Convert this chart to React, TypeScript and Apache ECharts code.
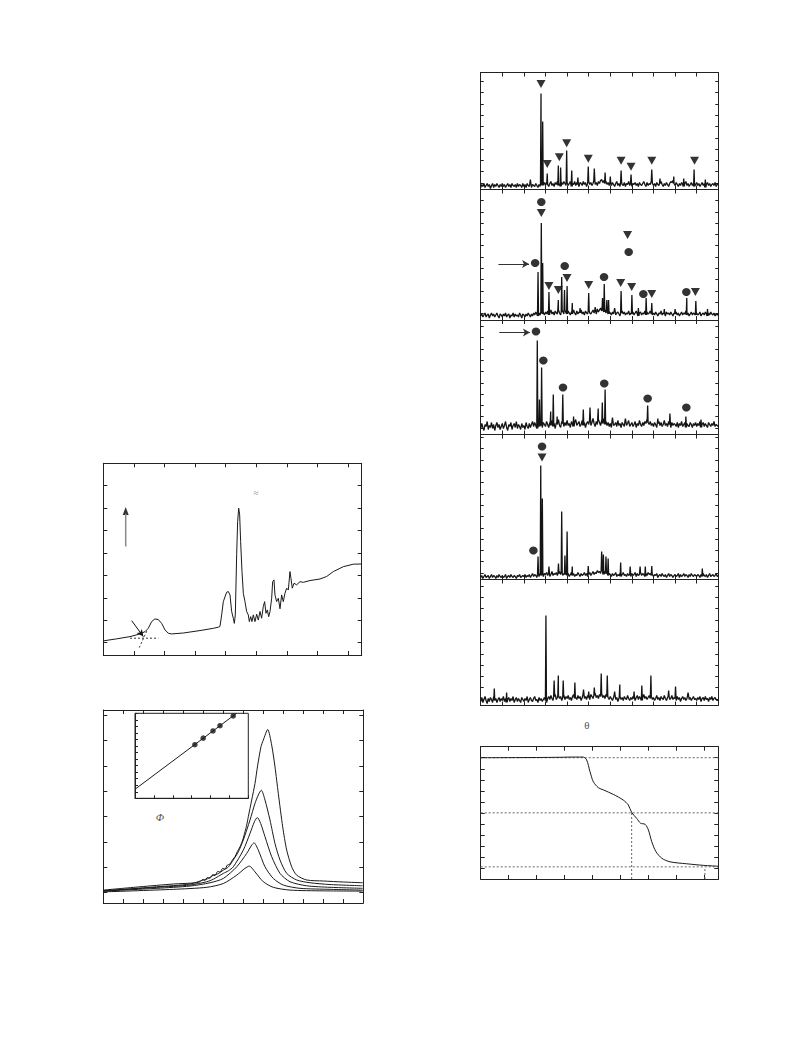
import { useEffect, useRef } from "react";
import * as echarts from "echarts";

// ---------- DSC trace (upper left) ----------
const dscTemp = [0, 21.8, 43.6, 59.9, 68.1, 73.5, 79.0, 84.4, 89.9, 95.3, 100.8, 106.2, 111.7, 130.7, 158.0, 179.8, 187.9, 190.6, 193.4, 196.1, 201.5, 204.3, 207.0, 209.7, 212.4, 214.1, 215.7, 217.9, 219.5, 221.2, 222.8, 224.4, 226.6, 228.8, 231.5, 234.2, 236.9, 238.6, 240.8, 242.9, 245.1, 247.8, 250.6, 253.3, 256.0, 258.7, 261.4, 263.6, 265.8, 268.0, 270.2, 272.4, 275.1, 276.7, 278.9, 280.5, 283.2, 286.0, 288.7, 291.4, 294.1, 296.8, 299.6, 302.3, 305.0, 306.6, 308.8, 311.6, 315.9, 321.4, 326.8, 337.7, 354.1, 364.9, 375.8, 392.2, 408.5, 422.1];
const dscHeat = [0.08, 0.17, 0.27, 0.39, 0.49, 0.64, 0.94, 1.06, 1.03, 0.86, 0.57, 0.42, 0.39, 0.43, 0.54, 0.64, 0.69, 0.72, 1.24, 1.83, 2.25, 2.28, 2.13, 1.39, 1.09, 0.86, 1.24, 3.92, 5.40, 6.00, 5.70, 4.51, 3.17, 2.20, 1.83, 1.39, 1.24, 0.94, 1.16, 0.94, 1.24, 0.94, 1.27, 1.01, 1.39, 1.09, 1.61, 1.83, 1.31, 1.46, 1.16, 1.39, 1.98, 2.72, 2.80, 2.13, 1.83, 1.98, 1.51, 2.13, 1.83, 2.20, 2.43, 2.35, 3.17, 2.87, 2.43, 2.65, 2.58, 2.72, 2.69, 2.77, 2.84, 2.95, 3.17, 3.39, 3.50, 3.51];
const dscBaseline = [[43.6, 0.2], [89.9, 0.2]];
const dscTangent = [[58.8, -0.22], [71.9, 0.57]];
const dscOnsetArrow = [[46.4, 0.98], [65.4, 0.27]];
const dscUpArrow = [[36.6, 4.29], [36.6, 5.75]];
const dscUpArrowHead = [36.6, 5.87];

// ---------- emission spectra (lower left) ----------
const spectrum1 = [[380, 0.09], [416.7, 0.22], [450, 0.33], [473.4, 0.38], [476.7, 0.42], [479.4, 0.51], [481.7, 0.47], [484.0, 0.59], [486.7, 0.56], [489.4, 0.70], [491.7, 0.66], [494.4, 0.83], [496.7, 0.80], [499.4, 0.95], [501.7, 0.92], [504.0, 1.08], [506.7, 1.12], [509.4, 1.30], [511.7, 1.41], [514.0, 1.61], [516.7, 1.80], [519.4, 2.07], [521.7, 2.40], [523.4, 2.66], [525.0, 2.99], [528.4, 3.65], [531.7, 4.31], [534.4, 5.03], [537.7, 5.76], [540.0, 6.02], [544.4, 6.44], [548.4, 5.82], [551.7, 4.96], [555.0, 3.91], [559.4, 2.59], [563.4, 1.67], [568.4, 1.01], [573.4, 0.68], [583.4, 0.49], [600, 0.45], [620, 0.41], [639.4, 0.38]];
const spectrum2 = [[380, 0.06], [433.4, 0.22], [466.7, 0.33], [480, 0.49], [485, 0.55], [490, 0.68], [495, 0.74], [500, 0.88], [505, 1.0], [510, 1.28], [515, 1.6], [520, 2.07], [526.7, 2.86], [531.7, 3.52], [535, 3.85], [538, 4.04], [541.7, 3.65], [546.7, 2.86], [551.7, 1.93], [556.7, 1.28], [563.4, 0.75], [573.4, 0.49], [586.7, 0.38], [606.7, 0.31], [639.4, 0.26]];
const spectrum3 = [[380, 0.06], [433.4, 0.20], [466.7, 0.29], [483.4, 0.42], [490, 0.52], [500, 0.75], [505, 0.85], [510, 1.01], [520, 1.67], [526.7, 2.33], [531.1, 2.79], [534, 2.96], [537.4, 2.72], [541.7, 2.20], [548.4, 1.41], [556.7, 0.75], [566.7, 0.42], [583.4, 0.26], [606.7, 0.20], [639.4, 0.16]];
const spectrum4 = [[380, 0.05], [433.4, 0.16], [466.7, 0.25], [486.7, 0.38], [500, 0.55], [513.4, 1.01], [523.4, 1.54], [528.4, 1.87], [530.7, 1.96], [535, 1.67], [541.7, 1.01], [550, 0.55], [560, 0.29], [576.7, 0.16], [606.7, 0.12], [639.4, 0.09]];
const spectrum5 = [[380, 0.02], [450, 0.12], [483.4, 0.20], [500, 0.35], [513.4, 0.68], [521.7, 0.95], [526, 1.04], [531.7, 0.81], [540, 0.42], [550, 0.20], [566.7, 0.09], [600, 0.06], [639.4, 0.05]];
const spectra = [spectrum1, spectrum2, spectrum3, spectrum4, spectrum5];

// inset: linear fit and measured points
const insetFit = [[0, 1.38], [5.38, 13]];
const insetPoints = [[3.17, 8.2], [3.61, 9.2], [4.13, 10.3], [4.5, 11.1], [5.2, 12.6]];

// ---------- powder diffraction patterns (right column) ----------
// background intensity sampled every 0.25° from 5° to 60°, one row per 5°
const twoThetaStart = 5;
const twoThetaStep = 0.25;

const noise1 = [
  2, 5, 3, 6, 2, 4, 6, 3, 5, 1, 4, 6, 2, 5, 3, 6, 4, 2, 5, 3,
  6, 3, 5, 2, 4, 6, 3, 5, 2, 6, 4, 3, 5, 2, 6, 3, 5, 4, 2, 6,
  3, 5, 2, 6, 4, 3, 6, 2, 5, 4, 3, 6, 4, 2, 5, 3, 6, 4, 5, 7,
  4, 7, 5, 3, 6, 8, 4, 6, 3, 7, 5, 8, 4, 6, 3, 7, 5, 8, 6, 4,
  7, 4, 6, 8, 3, 6, 5, 8, 4, 7, 5, 3, 7, 6, 4, 8, 5, 7, 3, 6,
  8, 5, 7, 4, 6, 9, 5, 7, 4, 8, 6, 9, 10, 7, 9, 6, 8, 5, 7, 4,
  6, 4, 7, 5, 3, 6, 8, 4, 6, 3, 7, 5, 4, 7, 3, 6, 5, 8, 4, 6,
  3, 6, 5, 7, 4, 6, 3, 7, 5, 4, 6, 8, 5, 3, 7, 4, 6, 5, 8, 6,
  4, 6, 3, 7, 5, 4, 6, 8, 5, 3, 6, 4, 7, 5, 3, 6, 8, 7, 9, 6,
  4, 7, 5, 3, 6, 4, 7, 5, 3, 6, 8, 4, 6, 3, 5, 7, 4, 6, 3, 5,
  7, 4, 6, 3, 5, 7, 4, 6, 2, 5, 7, 4, 6, 3, 5, 6, 4, 7, 3, 5,
  6,
];
const peaks1 = [[16.5, 10], [18.96, 96], [19.35, 68], [20.4, 16], [22.97, 24], [23.5, 22], [24.9, 39], [26.07, 19], [27.5, 12], [29.9, 23], [31.3, 21], [33.8, 17], [35.0, 13], [37.5, 19], [39.8, 15], [44.6, 20], [46.5, 11], [49.7, 13], [52.0, 11], [54.4, 20], [57.0, 10]];
const tri1 = [[18.96, 105.5], [20.4, 25.5], [23.2, 32.2], [24.9, 46.2], [29.9, 30.8], [37.5, 28.8], [39.8, 22.8], [44.6, 28.8], [54.5, 28.8]];
const dot1: number[][] = [];

const noise2 = [
  4, 6, 3, 5, 7, 3, 5, 6, 2, 5, 7, 4, 6, 3, 5, 7, 4, 2, 6, 5,
  3, 6, 4, 7, 3, 5, 6, 2, 5, 4, 7, 3, 6, 4, 5, 3, 7, 5, 2, 6,
  5, 3, 6, 4, 7, 5, 3, 6, 4, 7, 5, 8, 6, 4, 7, 5, 8, 6, 7, 5,
  8, 6, 9, 5, 7, 10, 6, 8, 5, 9, 7, 6, 10, 7, 5, 8, 9, 6, 10, 7,
  6, 9, 7, 5, 8, 6, 10, 7, 5, 9, 6, 8, 7, 10, 6, 8, 5, 9, 7, 6,
  9, 7, 6, 8, 10, 7, 9, 6, 11, 8, 10, 12, 9, 11, 8, 10, 7, 9, 6, 8,
  7, 5, 8, 6, 9, 5, 7, 8, 6, 4, 7, 9, 6, 8, 5, 7, 6, 9, 5, 7,
  6, 8, 5, 7, 9, 6, 4, 7, 8, 5, 7, 6, 9, 5, 8, 6, 7, 9, 6, 5,
  7, 5, 8, 6, 4, 7, 6, 9, 5, 7, 6, 4, 8, 6, 7, 5, 8, 6, 4, 7,
  6, 8, 5, 7, 4, 6, 8, 5, 7, 6, 9, 5, 7, 4, 6, 8, 5, 7, 6, 5,
  7, 5, 6, 8, 4, 6, 7, 5, 8, 6, 4, 7, 5, 8, 6, 5, 7, 4, 6, 5,
  6,
];
const peaks2 = [[18.27, 48], [19.03, 97], [19.35, 57], [20.8, 28], [22.97, 20], [23.75, 43], [24.4, 30], [25.0, 34], [26.2, 17], [28.0, 12], [30.0, 27], [31.5, 13], [33.2, 22], [33.6, 36], [34.2, 20], [34.6, 20], [36.0, 12], [37.5, 29], [40.0, 25], [41.5, 12], [43.3, 22], [44.6, 17], [47.5, 11], [50.0, 11], [52.7, 22], [54.8, 19], [57.5, 11]];
const tri2 = [[19.03, 107], [39.0, 85], [24.98, 42], [20.8, 34], [22.97, 30], [30.0, 35], [37.4, 37], [39.95, 33], [44.6, 26], [54.7, 28]];
const dot2 = [[19.03, 118], [39.26, 68], [17.6, 57], [24.45, 54], [33.55, 43], [42.65, 26], [52.6, 28]];
const arrow2 = [[9.1, 56], [16.2, 56]];

const noise3 = [
  6, 11, 7, 4, 10, 8, 13, 5, 9, 7, 12, 6, 10, 4, 9, 12, 7, 10, 5, 8,
  11, 6, 9, 13, 7, 4, 10, 8, 12, 5, 9, 11, 7, 13, 6, 10, 8, 5, 11, 7,
  9, 5, 12, 8, 6, 11, 7, 10, 13, 8, 12, 9, 6, 11, 8, 13, 9, 7, 12, 10,
  8, 13, 10, 7, 12, 9, 14, 8, 11, 6, 12, 10, 15, 9, 7, 13, 11, 8, 12, 9,
  14, 9, 11, 7, 13, 10, 8, 12, 15, 9, 11, 13, 8, 10, 14, 9, 12, 7, 11, 13,
  10, 14, 9, 12, 16, 11, 8, 13, 10, 15, 12, 9, 14, 11, 16, 10, 13, 9, 12, 8,
  11, 7, 13, 9, 10, 12, 8, 14, 9, 11, 7, 12, 10, 8, 13, 9, 11, 14, 8, 10,
  12, 8, 10, 13, 7, 11, 9, 14, 10, 8, 12, 9, 13, 11, 15, 12, 10, 13, 9, 11,
  8, 12, 10, 7, 11, 13, 9, 12, 8, 10, 14, 9, 11, 8, 13, 10, 7, 12, 9, 11,
  10, 8, 12, 7, 11, 9, 13, 8, 10, 12, 7, 11, 9, 8, 12, 10, 7, 11, 9, 12,
  8, 11, 9, 13, 7, 10, 12, 8, 11, 9, 7, 12, 10, 8, 11, 9, 13, 8, 10, 9,
  8,
];
const peaks3 = [[18.1, 94], [18.6, 35], [19.1, 67], [21.2, 23], [21.8, 40], [22.7, 18], [24.0, 40], [26.5, 18], [28.75, 25], [30.3, 27], [32.2, 26], [33.15, 32], [33.8, 45], [35.5, 17], [38.5, 16], [43.65, 29], [46.0, 16], [48.8, 21], [52.5, 18], [56.0, 15]];
const tri3: number[][] = [];
const dot3 = [[17.8, 103], [19.5, 74], [24.05, 47], [33.6, 51], [43.65, 36], [52.6, 27]];
const arrow3 = [[9.3, 102], [16.4, 102]];

const noise4 = [
  2, 4, 1, 3, 5, 2, 3, 4, 1, 3, 5, 2, 4, 3, 1, 4, 2, 5, 3, 2,
  4, 2, 3, 5, 1, 3, 4, 2, 5, 3, 2, 4, 3, 1, 4, 3, 5, 2, 3, 4,
  3, 5, 2, 4, 3, 5, 2, 4, 6, 3, 5, 4, 2, 5, 3, 6, 4, 5, 3, 6,
  5, 7, 4, 6, 3, 5, 8, 4, 6, 5, 7, 4, 6, 8, 5, 7, 4, 6, 5, 7,
  4, 6, 3, 5, 7, 4, 6, 3, 5, 4, 7, 5, 3, 6, 4, 5, 7, 4, 6, 3,
  5, 7, 4, 6, 8, 5, 7, 6, 9, 7, 8, 6, 9, 7, 5, 8, 6, 7, 4, 6,
  5, 3, 6, 4, 5, 7, 3, 5, 4, 6, 3, 5, 7, 4, 5, 3, 6, 4, 5, 3,
  6, 4, 5, 7, 3, 6, 4, 5, 7, 4, 6, 5, 3, 6, 4, 7, 5, 6, 4, 5,
  3, 5, 4, 6, 2, 4, 5, 3, 6, 4, 3, 5, 2, 4, 6, 3, 5, 4, 2, 4,
  5, 3, 4, 6, 2, 5, 3, 4, 6, 3, 5, 4, 2, 5, 3, 6, 4, 3, 5, 4,
  3, 5, 4, 2, 5, 3, 6, 4, 3, 5, 2, 4, 6, 3, 4, 5, 3, 4, 6, 3,
  4,
];
const peaks4 = [[18.27, 23], [18.9, 114], [19.27, 81], [20.8, 13], [23.0, 16], [23.75, 68], [24.5, 24], [25.0, 48], [26.2, 13], [29.9, 13.5], [33.0, 28], [33.4, 25], [34.0, 23], [34.5, 21], [37.4, 17], [39.6, 13], [41.9, 13], [43.1, 13], [44.6, 13.5], [56.3, 11]];
const tri4 = [[19.2, 122]];
const dot4 = [[19.2, 133], [17.2, 29]];

const noise5 = [
  4, 8, 3, 6, 9, 5, 2, 7, 4, 8, 6, 3, 9, 5, 7, 3, 6, 8, 4, 7,
  5, 9, 4, 7, 3, 6, 8, 4, 7, 5, 9, 3, 6, 8, 4, 7, 5, 3, 8, 6,
  4, 7, 5, 9, 3, 6, 8, 5, 4, 7, 9, 5, 6, 3, 8, 5, 7, 4, 6, 8,
  5, 3, 7, 9, 6, 10, 7, 5, 9, 11, 6, 8, 10, 7, 9, 5, 8, 10, 6, 9,
  7, 10, 6, 8, 5, 9, 11, 7, 8, 6, 10, 7, 9, 5, 8, 11, 7, 9, 6, 10,
  8, 6, 11, 9, 7, 10, 12, 8, 10, 7, 11, 9, 12, 8, 10, 7, 11, 9, 8, 6,
  9, 7, 5, 8, 10, 6, 8, 4, 7, 9, 6, 8, 5, 9, 7, 6, 10, 7, 5, 8,
  6, 9, 7, 5, 8, 10, 6, 9, 7, 5, 8, 11, 7, 9, 6, 8, 10, 7, 9, 6,
  8, 5, 7, 10, 6, 8, 5, 9, 7, 6, 10, 7, 5, 8, 9, 6, 7, 10, 6, 8,
  7, 5, 9, 6, 8, 4, 7, 9, 6, 8, 5, 7, 10, 6, 8, 5, 7, 9, 6, 7,
  5, 8, 6, 9, 4, 7, 8, 5, 9, 6, 7, 4, 8, 6, 9, 5, 7, 8, 6, 5,
  6,
];
const peaks5 = [[8.15, 17], [11.0, 13], [20.1, 90], [22.0, 25], [22.97, 30], [24.1, 25], [26.8, 23], [28.8, 16], [30.0, 14], [31.3, 18], [32.9, 32], [34.3, 30], [36.0, 14], [37.2, 21], [40.5, 14], [42.3, 20], [44.4, 30], [48.5, 15], [50.1, 19], [53.0, 13]];
const tri5: number[][] = [];
const dot5: number[][] = [];

// ---------- thermogravimetric curve (bottom right) ----------
const tgaTemp = [0, 100, 200, 284, 340, 367, 379, 391, 403, 421, 439, 474, 510, 528, 540, 558, 572, 588, 600, 612, 627, 648, 677, 737, 796, 850];
const tgaMass = [95.0, 95.05, 95.1, 95.2, 95.3, 95.3, 94.0, 88.7, 84.1, 81.4, 80.4, 78.4, 75.8, 73.6, 70.2, 67.5, 65.3, 64.8, 62.2, 56.9, 52.4, 49.4, 47.8, 46.9, 46.2, 45.8];
const tgaLevels = [95, 70, 45.5];
const tgaMarks = [[540, 70], [802, 45.5]];

// ---------------------------------------------------------------

const INK = "#1a1a1a";
const FRAME = "#222";

function buildPattern(noise: number[], peaks: number[][]) {
  const pts = noise.map((v, i) => [twoThetaStart + i * twoThetaStep, v]);
  for (const [pos, h] of peaks) {
    const i = Math.min(Math.max(Math.round((pos - twoThetaStart) / twoThetaStep), 0), noise.length - 1);
    const base = noise[i];
    pts.push([pos - 0.12, base], [pos, h], [pos + 0.12, base]);
  }
  return pts.sort((a, b) => a[0] - b[0]);
}

function tickRun(start: number, step: number, limit: number) {
  const t: number[] = [];
  for (let v = start; v < limit - 1.5; v += step) t.push(Math.round(v * 10) / 10);
  return t;
}

type AxisSpec = { min: number; max: number; interval?: number; ticks?: number[]; tickLen?: number };

function buildOption() {
  const grids: any[] = [];
  const xAxes: any[] = [];
  const yAxes: any[] = [];
  const series: any[] = [];

  const axis = (gi: number, spec: AxisSpec, position: string) => ({
    type: "value",
    gridIndex: gi,
    position,
    min: spec.min,
    max: spec.max,
    interval: spec.interval,
    axisLine: { show: true, onZero: false, lineStyle: { color: FRAME, width: 1 } },
    axisTick: {
      show: true,
      inside: true,
      length: spec.tickLen ?? 4,
      lineStyle: { color: FRAME, width: 1 },
      ...(spec.ticks ? { customValues: spec.ticks } : {}),
    },
    axisLabel: { show: false },
    splitLine: { show: false },
    splitArea: { show: false },
  });

  const panel = (left: number, top: number, width: number, height: number, xs: AxisSpec, ys: AxisSpec, mirror = true, extra: any = {}) => {
    const gi = grids.length;
    grids.push({ left, top, width, height, containLabel: false, ...extra });
    const x = xAxes.length;
    xAxes.push(axis(gi, xs, "bottom"));
    if (mirror) xAxes.push(axis(gi, xs, "top"));
    const y = yAxes.length;
    yAxes.push(axis(gi, ys, "left"));
    if (mirror) yAxes.push(axis(gi, ys, "right"));
    return { x, y };
  };

  const line = (ax: { x: number; y: number }, data: number[][], extra: any = {}) => ({
    type: "line",
    xAxisIndex: ax.x,
    yAxisIndex: ax.y,
    data,
    showSymbol: false,
    symbol: "none",
    silent: true,
    lineStyle: { color: INK, width: 1 },
    ...extra,
  });

  const arrowMark = (pts: number[][], color = "#111", size: number[] = [6, 8]) => ({
    silent: true,
    symbol: ["none", "arrow"],
    symbolSize: size,
    label: { show: false },
    emphasis: { disabled: true },
    lineStyle: { color, width: 1, type: "solid" },
    data: [[{ coord: pts[0] }, { coord: pts[1] }]],
  });

  // DSC
  const a = panel(103.3, 463.3, 258.4, 191.7, { min: 0, max: 422.2, interval: 50 }, { min: -0.55, max: 8, ticks: [0, 1, 2, 3, 4, 5, 6, 7] });
  series.push(line(a, dscTemp.map((t, i) => [t, dscHeat[i]]), { markLine: arrowMark(dscOnsetArrow, "#111", [5, 7]) }));
  series.push(line(a, dscBaseline, { lineStyle: { color: "#333", width: 1, type: [2, 2] } }));
  series.push(line(a, dscTangent, { lineStyle: { color: "#333", width: 1, type: [2, 2] } }));
  series.push(line(a, dscUpArrow, { lineStyle: { color: "#8a8a8a", width: 1.5 } }));
  series.push({
    type: "scatter", xAxisIndex: a.x, yAxisIndex: a.y, silent: true,
    data: [dscUpArrowHead], symbol: "triangle", symbolSize: [6, 8], itemStyle: { color: "#000" },
  });

  // emission spectra
  const b = panel(103.3, 710, 260, 193, { min: 380, max: 640, interval: 20 }, { min: -0.42, max: 7.21, ticks: [0, 1, 2, 3, 4, 5, 6, 7] });
  spectra.forEach((s) => series.push(line(b, s, { smooth: 0.25 })));

  // inset
  const ins = panel(135, 713.3, 113.3, 85, { min: 0, max: 6, interval: 1, tickLen: 3 }, { min: 0, max: 13, interval: 1, tickLen: 3 }, false, {
    show: true, backgroundColor: "#fff", borderColor: FRAME, borderWidth: 1,
  });
  series.push(line(ins, insetFit));
  series.push({
    type: "scatter", xAxisIndex: ins.x, yAxisIndex: ins.y, silent: true,
    data: insetPoints, symbol: "circle", symbolSize: 5.5, itemStyle: { color: "#111" },
  });

  // diffraction stack
  const xrdBounds = [72.5, 189.5, 320, 434.5, 579.5, 705.5];
  const patterns = [
    { noise: noise1, peaks: peaks1, tri: tri1, dot: dot1, arrow: null as number[][] | null },
    { noise: noise2, peaks: peaks2, tri: tri2, dot: dot2, arrow: arrow2 },
    { noise: noise3, peaks: peaks3, tri: tri3, dot: dot3, arrow: arrow3 },
    { noise: noise4, peaks: peaks4, tri: tri4, dot: dot4, arrow: null },
    { noise: noise5, peaks: peaks5, tri: tri5, dot: dot5, arrow: null },
  ];
  patterns.forEach((p, k) => {
    const top = xrdBounds[k];
    const h = xrdBounds[k + 1] - top;
    const ax = panel(480.7, top, 237.6, h, { min: 5, max: 60, interval: 5 }, { min: 0, max: h, ticks: tickRun(6.5, 11.3, h), tickLen: 3 });
    series.push(line(ax, buildPattern(p.noise, p.peaks), {
      lineStyle: { color: "#141414", width: 1.3 },
      ...(p.arrow ? { markLine: arrowMark(p.arrow, "#333", [6, 7]) } : {}),
    }));
    if (p.tri.length)
      series.push({
        type: "scatter", xAxisIndex: ax.x, yAxisIndex: ax.y, silent: true, data: p.tri,
        symbol: "triangle", symbolRotate: 180, symbolSize: [9, 8], itemStyle: { color: "#000" },
      });
    if (p.dot.length)
      series.push({
        type: "scatter", xAxisIndex: ax.x, yAxisIndex: ax.y, silent: true, data: p.dot,
        symbol: "circle", symbolSize: [8.5, 8], itemStyle: { color: "#000" },
      });
  });

  // TGA
  const t = panel(480.7, 746.7, 237.6, 132.3, { min: 0, max: 850, interval: 100 }, { min: 40, max: 100, interval: 5 });
  const dotted = { lineStyle: { color: "#666", width: 1, type: [2, 2] } };
  tgaLevels.forEach((lv) => series.push(line(t, [[0, lv], [850, lv]], dotted)));
  tgaMarks.forEach(([tx, ty]) => series.push(line(t, [[tx, 40], [tx, ty]], dotted)));
  series.push(line(t, tgaTemp.map((x, i) => [x, tgaMass[i]]), { smooth: 0.3 }));

  const serif = '"Liberation Serif", "DejaVu Serif", serif';
  return {
    animation: false,
    backgroundColor: "#fff",
    grid: grids,
    xAxis: xAxes,
    yAxis: yAxes,
    series,
    graphic: [
      { type: "text", x: 256, y: 493, style: { text: "≈", font: `9px ${serif}`, fill: "#8a8a8a", align: "center", verticalAlign: "middle" } },
      { type: "text", x: 160, y: 817, style: { text: "Φ", font: `italic 11px ${serif}`, fill: "#555", align: "center", verticalAlign: "middle" } },
      { type: "text", x: 587, y: 725, style: { text: "θ", font: `11px ${serif}`, fill: "#555", align: "center", verticalAlign: "middle" } },
    ],
  };
}

export default function App() {
  const ref = useRef<HTMLDivElement>(null);
  useEffect(() => {
    document.body.style.margin = "0";
    const chart = echarts.init(ref.current!, null, { renderer: "svg" });
    chart.setOption(buildOption());
    return () => chart.dispose();
  }, []);
  return <div ref={ref} style={{ width: 793, height: 1057, background: "#fff" }} />;
}
